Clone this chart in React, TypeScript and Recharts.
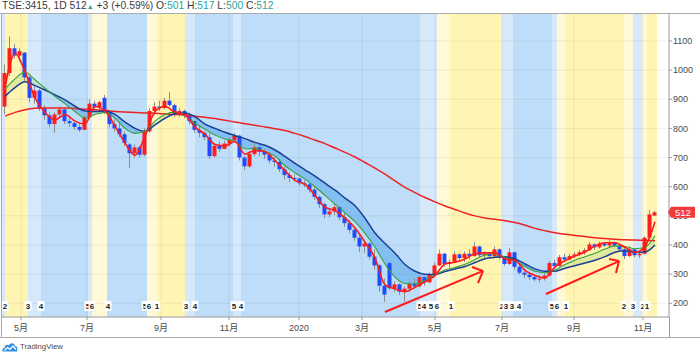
import React from 'react';
import {
  ComposedChart, Bar, Line, Area, XAxis, YAxis,
  ReferenceArea, ReferenceLine, ReferenceDot,
} from 'recharts';

const FONT = '"Liberation Sans", Arial, "Noto Sans CJK SC", sans-serif';

// ---- daily-ish candles (each bar ~3 trading days) ----
const barOpen = [
  875, 990, 1075, 1050, 1060, 975, 905, 930, 870, 845,
  815, 848, 865, 825, 818, 805, 795, 838, 885, 872,
  905, 855, 815, 800, 780, 745, 715, 735, 710, 790,
  860, 875, 870, 895, 880, 850, 860, 845, 825, 795,
  785, 770, 705, 740, 730, 748, 760, 775, 700, 670,
  712, 735, 720, 710, 690, 685, 660, 640, 630, 628,
  612, 608, 590, 565, 540, 505, 515, 530, 495, 475,
  452, 425, 395, 405, 360, 330, 260, 338, 252, 265,
  240, 250, 268, 258, 290, 272, 298, 330, 370, 335,
  342, 368, 355, 370, 362, 395, 365, 370, 362, 385,
  360, 335, 375, 325, 305, 298, 290, 282, 285, 295,
  338, 328, 358, 350, 362, 368, 375, 382, 402, 392,
  405, 398, 410, 398, 385, 362, 385, 365, 370, 425,
  501,
];
const barHigh = [
  1020, 1115, 1090, 1075, 1062, 980, 945, 935, 880, 855,
  855, 875, 868, 845, 830, 820, 845, 900, 895, 895,
  915, 860, 830, 820, 790, 750, 745, 740, 800, 870,
  890, 895, 905, 925, 885, 870, 865, 855, 828, 808,
  792, 782, 750, 755, 758, 770, 785, 778, 705, 722,
  752, 745, 730, 718, 702, 695, 668, 650, 642, 632,
  622, 615, 598, 570, 545, 528, 540, 533, 510, 486,
  462, 440, 418, 410, 385, 335, 285, 342, 275, 268,
  258, 275, 285, 298, 292, 305, 340, 385, 372, 350,
  378, 372, 378, 385, 410, 398, 378, 376, 395, 388,
  362, 390, 378, 332, 315, 308, 298, 296, 305, 345,
  350, 366, 370, 370, 376, 384, 390, 410, 406, 412,
  410, 418, 412, 402, 390, 395, 386, 378, 430, 520,
  517,
];
const barLow = [
  850, 980, 1040, 1030, 960, 890, 885, 860, 830, 805,
  785, 840, 815, 805, 795, 788, 795, 835, 860, 860,
  850, 805, 790, 770, 740, 665, 700, 700, 705, 785,
  845, 860, 865, 875, 840, 840, 835, 815, 785, 770,
  760, 695, 700, 720, 728, 738, 755, 690, 657, 665,
  705, 705, 695, 680, 668, 650, 625, 615, 618, 603,
  598, 580, 555, 527, 492, 495, 503, 485, 462, 440,
  415, 375, 373, 350, 315, 240, 205, 245, 238, 228,
  205, 240, 248, 255, 260, 270, 295, 328, 325, 320,
  340, 348, 342, 350, 360, 358, 355, 358, 358, 350,
  328, 332, 315, 298, 287, 280, 275, 272, 278, 293,
  318, 326, 342, 348, 354, 362, 366, 380, 383, 388,
  393, 392, 392, 380, 352, 360, 358, 356, 368, 420,
  500,
];
const barClose = [
  990, 1075, 1050, 1065, 975, 905, 930, 870, 845, 815,
  848, 865, 825, 818, 805, 795, 838, 885, 872, 890,
  855, 815, 800, 780, 750, 715, 735, 710, 790, 860,
  875, 870, 895, 880, 850, 860, 845, 825, 795, 785,
  770, 705, 740, 730, 748, 760, 775, 700, 670, 712,
  735, 720, 710, 690, 685, 660, 640, 630, 628, 612,
  608, 590, 565, 540, 505, 515, 530, 495, 475, 452,
  425, 395, 405, 360, 330, 260, 230, 252, 265, 240,
  250, 268, 258, 290, 272, 298, 330, 370, 335, 342,
  368, 355, 370, 362, 395, 365, 370, 362, 385, 360,
  335, 375, 325, 305, 298, 290, 282, 285, 295, 338,
  328, 358, 350, 362, 368, 375, 382, 402, 392, 405,
  398, 410, 398, 385, 362, 385, 365, 370, 425, 505,
  512,
];

// ---- moving averages, sampled every 2 bars ----
const MA_STEP = 2;
const fastMa = [
  940, 1058, 995, 905, 855, 829, 848, 825, 815, 875,
  860, 808, 750, 708, 773, 858, 875, 856, 846, 805,
  780, 745, 740, 755, 712, 724, 720, 690, 655, 622,
  608, 570, 530, 518, 493, 458, 410, 355, 263, 250,
  240, 255, 274, 295, 335, 341, 352, 370, 373, 373,
  352, 347, 313, 295, 287, 325, 346, 362, 376, 397,
  408, 408, 392, 375, 395, 480,
];
const greenMa = [
  935, 970, 993, 967, 938, 910, 885, 858, 836, 848,
  855, 835, 800, 783, 790, 825, 848, 856, 843, 818,
  797, 777, 764, 755, 730, 730, 720, 705, 672, 648,
  626, 600, 570, 540, 510, 480, 440, 393, 335, 290,
  268, 266, 278, 297, 314, 323, 334, 350, 366, 370,
  358, 345, 326, 310, 305, 314, 333, 348, 360, 372,
  386, 397, 395, 387, 392, 432,
];
const blueMa = [
  910, 940, 960, 947, 932, 915, 898, 876, 860, 858,
  860, 848, 822, 800, 790, 812, 835, 850, 853, 840,
  815, 800, 787, 775, 765, 752, 742, 726, 704, 680,
  658, 636, 612, 588, 561, 535, 492, 441, 405, 372,
  333, 310, 300, 299, 309, 318, 326, 340, 353, 358,
  360, 352, 335, 318, 310, 310, 320, 329, 338, 348,
  360, 375, 380, 375, 376, 400,
];
const longMa = [
  842, 855, 864, 869, 870, 870, 870, 868, 866, 864,
  862, 858, 856, 855, 853, 852, 850, 848, 846, 842,
  838, 834, 828, 822, 816, 811, 805, 799, 793, 783,
  772, 760, 748, 733, 718, 702, 683, 664, 643, 620,
  598, 580, 563, 548, 534, 522, 510, 500, 493, 488,
  483, 477, 468, 457, 449, 442, 437, 433, 429, 425,
  422, 420, 418, 417, 416, 415,
];

// ---- axes ----
const monthTicks = [3.2, 16.4, 31.2, 44.8, 58.8, 71.4, 86, 99.4, 113.8, 127.6];
const monthLabels = ['5月', '7月', '9月', '11月', '2020', '3月', '5月', '7月', '9月', '11月'];
const priceTicks = [200, 300, 400, 500, 600, 700, 800, 900, 1000, 1100];

// ---- background phase bands ----
const bandStart = [-0.6, 0, 4.6, 7.2, 16.6, 17.4, 20.4, 28.4, 30.4, 36, 38, 45.6, 47.2, 83, 86.4, 89, 99.4, 101.6, 109.4, 110.4, 112, 123.8, 125.6, 127.4, 128.4];
const bandEnd = [0, 4.6, 7.2, 16.6, 17.4, 20.4, 28.4, 30.4, 36, 38, 45.6, 47.2, 83, 86.4, 89, 99.4, 101.6, 109.4, 110.4, 112, 123.8, 125.6, 127.4, 128.4, 130.4];
const bandKind = ['lb', 'y', 'lb', 'b', 'lb', 'py', 'b', 'py', 'y', 'lb', 'b', 'lb', 'b', 'lb', 'py', 'y', 'lb', 'b', 'lb', 'py', 'y', 'py', 'lb', 'py', 'y'];

// ---- phase number labels ----
const phaseX = [0, 4.6, 7.2, 16.6, 17.4, 20.6, 28, 28.8, 30.4, 36.2, 38, 45.8, 47.2, 83, 83.8, 85.2, 86.4, 89.2, 99.4, 100.2, 101.4, 102.8, 109.4, 110.4, 112.2, 123.8, 125.6, 127.6, 128.4];
const phaseText = ['2', '3', '4', '5', '6', '4', '5', '6', '1', '3', '4', '5', '4', '5', '4', '5', '6', '1', '2', '3', '3', '4', '5', '6', '1', '2', '3', '2', '1'];
const PHASE_Y = 191;

// ---- hand drawn arrows (annotation, data coords) ----
const arrowSegs = [
  [76, 170, 95.6, 311], [93.4, 324.5, 95.6, 311], [94.6, 269.6, 95.6, 311],
  [108.2, 232, 122.8, 345], [120.8, 352, 122.8, 345], [122.2, 304, 122.8, 345],
];

const headerChange = '+3 (+0.59%)';

const BAND_COLORS: Record<string, string> = {
  y: '#FFF5B2', py: '#FFF9D8', lb: '#D5E9FA', b: '#BEDDF8',
};
const UP = '#FF1E1E';
const DOWN = '#1F4CFF';
const WICK = '#8d8d8d';
const TEAL = '#26a69a';

const X_DOMAIN: [number, number] = [-0.6, 132.8];
const Y_DOMAIN: [number, number] = [153, 1196];

const candles = barClose.map((c, i) => ({ x: i, open: barOpen[i], high: barHigh[i], low: barLow[i], close: c }));
const maData = fastMa.map((v, i) => ({ x: i * MA_STEP, fast: v, green: greenMa[i], blue: blueMa[i], long: longMa[i] }));
const isBear = blueMa.map((b, i) => b > greenMa[i]);
const bearData = maData.map((d, i) => ({
  x: d.x,
  band: (isBear[i] || isBear[i - 1] || isBear[i + 1]) ? [greenMa[i], blueMa[i]] : null,
}));
const bullData = maData.map((d, i) => ({
  x: d.x,
  band: (!isBear[i] || (i > 0 && !isBear[i - 1]) || (i < isBear.length - 1 && !isBear[i + 1])) ? [greenMa[i], blueMa[i]] : null,
}));

function Candle(props: any) {
  const { x, y, width, height, payload } = props;
  if (!payload || x == null || y == null) return null;
  const top = Math.min(y, y + height);
  const h = Math.abs(height);
  const { open, high, low, close } = payload;
  const k = h / Math.max(high - low, 1e-6);
  const bodyTop = top + (high - Math.max(open, close)) * k;
  const bodyBot = top + (high - Math.min(open, close)) * k;
  const cx = x + width / 2;
  const up = close >= open;
  return (
    <g>
      <line x1={cx} x2={cx} y1={top} y2={top + h} stroke={WICK} strokeWidth={1} />
      <rect x={cx - width / 2} y={bodyTop} width={width} height={Math.max(1, bodyBot - bodyTop)} fill={up ? UP : DOWN} />
    </g>
  );
}

function PhaseTag({ cx, cy, text }: any) {
  if (cx == null) return null;
  return (
    <g>
      <rect x={cx - 3.5} y={cy - 5} width={7} height={10} rx={1.5} fill="#ffffff" />
      <text x={cx} y={cy + 3} textAnchor="middle" fontSize={8} fontWeight={700} fill="#1a1a1a" fontFamily={FONT}>{text}</text>
    </g>
  );
}

function PriceTag({ cx, cy, text }: any) {
  if (cx == null) return null;
  return (
    <g>
      <path d={`M${cx - 1} ${cy} L${cx + 2} ${cy - 5.5} L${cx + 26} ${cy - 5.5} L${cx + 26} ${cy + 5.5} L${cx + 2} ${cy + 5.5} Z`} fill="#F23A3A" />
      <text x={cx + 6} y={cy + 3.5} fontSize={9.5} fill="#ffffff" fontFamily={FONT}>{text}</text>
    </g>
  );
}

function MonthTick(props: any) {
  const { x, y, payload } = props;
  const i = monthTicks.indexOf(payload.value);
  const label = i >= 0 ? monthLabels[i] : '';
  return (
    <text x={x} y={y + 8.5} textAnchor="middle" fontSize={9} fill="#4a4a4a" fontFamily={FONT}>{label}</text>
  );
}

export default function App() {
  const last = barClose.length - 1;
  return (
    <div style={{ position: 'relative', width: 700, height: 356, background: '#fff', fontFamily: FONT, overflow: 'hidden' }}>
      <style>{'body{margin:0;}'}</style>
      <ComposedChart
        width={700}
        height={356}
        data={candles}
        margin={{ top: 13, right: 0, bottom: 19, left: 2 }}
        style={{ fontFamily: FONT }}
      >
        {bandStart.map((s, i) => (
          <ReferenceArea key={'band' + i} x1={s} x2={bandEnd[i]} fill={BAND_COLORS[bandKind[i]]} fillOpacity={1} stroke="none" zIndex={-90} />
        ))}
        {monthTicks.map((t) => (
          <ReferenceLine key={'gx' + t} x={t} stroke="#2a2e39" strokeOpacity={0.07} zIndex={-80} />
        ))}
        {priceTicks.map((t) => (
          <ReferenceLine key={'gy' + t} y={t} stroke="#2a2e39" strokeOpacity={0.07} zIndex={-80} />
        ))}
        <Area data={bullData} dataKey="band" type="monotone" stroke="none" fill="#9fd27a" fillOpacity={0.32} isAnimationActive={false} />
        <Area data={bearData} dataKey="band" type="monotone" stroke="none" fill="#3d9be9" fillOpacity={0.45} isAnimationActive={false} />
        <Bar dataKey={(d: any) => [d.low, d.high]} barSize={4} shape={(p: any) => <Candle {...p} />} isAnimationActive={false} />
        <Line data={maData} dataKey="long" type="monotone" stroke="#EE2222" strokeWidth={1.5} dot={false} isAnimationActive={false} />
        <Line data={maData} dataKey="blue" type="monotone" stroke="#1B3F94" strokeWidth={1.5} dot={false} isAnimationActive={false} />
        <Line data={maData} dataKey="green" type="monotone" stroke="#35A03A" strokeWidth={1.1} dot={false} isAnimationActive={false} />
        <Line data={maData} dataKey="fast" type="monotone" stroke="#FF1A1A" strokeWidth={1.6} dot={false} isAnimationActive={false} />
        {arrowSegs.map((s, i) => (
          <ReferenceLine key={'ar' + i} segment={[{ x: s[0], y: s[1] }, { x: s[2], y: s[3] }]} stroke="#FF1A1A" strokeWidth={2} zIndex={450} />
        ))}
        {phaseX.map((px, i) => (
          <ReferenceDot key={'ph' + i} x={px} y={PHASE_Y} r={0} zIndex={500}
            shape={(p: any) => <PhaseTag cx={p.cx} cy={p.cy} text={phaseText[i]} />} />
        ))}
        <XAxis
          dataKey="x" type="number" domain={X_DOMAIN} allowDataOverflow
          ticks={monthTicks} interval={0} height={20} tickSize={3}
          tick={(p: any) => <MonthTick {...p} />}
          axisLine={{ stroke: '#9a9a9a' }} tickLine={{ stroke: '#9a9a9a' }}
        />
        <YAxis
          orientation="right" type="number" domain={Y_DOMAIN} allowDataOverflow
          ticks={priceTicks} interval={0} width={31} tickSize={3} tickMargin={1}
          tick={{ fontSize: 9, fill: '#4a4a4a', fontFamily: FONT }}
          axisLine={{ stroke: '#9a9a9a' }} tickLine={{ stroke: '#9a9a9a' }}
        />
        <ReferenceDot x={X_DOMAIN[1]} y={barClose[last]} r={0} zIndex={2000}
          shape={(p: any) => <PriceTag cx={p.cx} cy={p.cy} text={String(barClose[last])} />} />
      </ComposedChart>

      {/* header */}
      <div style={{ position: 'absolute', left: 2, top: 0, fontSize: 10.3, lineHeight: '12px', color: '#3b3b3b', whiteSpace: 'nowrap' }}>
        TSE:3415, 1D {barClose[last]}
        <span style={{ color: TEAL, fontSize: 7 }}>▲</span> {headerChange} O:<span style={{ color: TEAL }}>{barOpen[last]}</span> H:<span style={{ color: TEAL }}>{barHigh[last]}</span> L:<span style={{ color: TEAL }}>{barLow[last]}</span> C:<span style={{ color: TEAL }}>{barClose[last]}</span>
      </div>

      {/* frame lines */}
      <div style={{ position: 'absolute', left: 0, top: 13, width: 700, height: 1, background: '#ababab' }} />
      <div style={{ position: 'absolute', left: 1, top: 13, width: 1, height: 324, background: '#ababab' }} />
      <div style={{ position: 'absolute', left: 0, top: 337, width: 700, height: 1, background: '#ababab' }} />
      <div style={{ position: 'absolute', left: 669, top: 317, width: 1, height: 20, background: '#9a9a9a' }} />

      {/* logo */}
      <div style={{ position: 'absolute', left: 2, top: 342, display: 'flex', alignItems: 'center' }}>
        <svg width={16} height={10} viewBox="0 0 16 10">
          <path d="M1 9.5 C0 9.5 0 6 2.5 6 C2.5 3 5.5 2 7 3.5 C8 0.5 12.5 0.5 13 4 C15.5 4 16 7 15 9.5 Z" fill="#2f8fe8" />
          <path d="M2.5 8.5 L5.5 5.5 L8 7.5 L11 4 L14 7.5" fill="none" stroke="#ffffff" strokeWidth={1.2} />
        </svg>
        <span style={{ marginLeft: 2, fontSize: 7.8, color: '#4a4a4a', lineHeight: '10px' }}>TradingView</span>
      </div>
    </div>
  );
}
